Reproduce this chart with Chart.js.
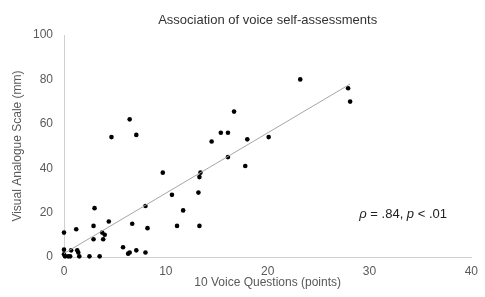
<!DOCTYPE html>
<html>
<head>
<meta charset="utf-8">
<script src="https://cdn.jsdelivr.net/npm/chart.js@4"></script>
<style>
  html, body { margin: 0; padding: 0; background: #fff; }
  #wrap { width: 485px; height: 297px; }
</style>
</head>
<body>
<div id="wrap"><canvas id="voiceChart" width="485" height="297"></canvas></div>
<script>
// 10 Voice Questions score (points) and Visual Analogue Scale (mm)
const vqScores = [0, 0, 0, 0.1, 0.4, 0.6, 0.7, 1.2, 1.3, 1.4, 1.5, 2.5, 3.5, 2.9, 2.9, 3.0, 3.75, 4.0, 3.85, 4.4,
    4.66, 5.8, 6.3, 6.45, 6.45, 6.7, 7.1, 7.1, 8.0, 8.2, 8.0, 9.7, 10.6, 11.1, 11.7, 13.2, 13.3, 13.3, 13.4,
    14.5, 15.4, 16.1, 16.1, 16.7, 17.8, 18.0, 20.1, 23.2, 27.9, 28.1];
const vasScores = [11, 3.3, 1.2, 0.3, 0.3, 0.3, 3, 12.5, 3, 2, 0.3, 0.3, 0.3, 8, 14, 22, 11, 10, 8, 16,
    54, 4.4, 1.5, 2, 62, 15, 3, 55, 23, 13, 2, 38, 28, 14, 21, 29, 14, 36, 38,
    52, 56, 56, 45, 65.5, 41, 53, 54, 80, 76, 70];
const xTicks = [0, 10, 20, 30, 40];
const yTicks = [0, 20, 40, 60, 80, 100];

const points = vqScores.map((x, i) => ({ x: x, y: vasScores[i] }));

// least squares trend line over the data range
const n = vqScores.length;
const mx = vqScores.reduce((a, b) => a + b, 0) / n;
const my = vasScores.reduce((a, b) => a + b, 0) / n;
let sxy = 0, sxx = 0;
for (let i = 0; i < n; i++) {
    sxy += (vqScores[i] - mx) * (vasScores[i] - my);
    sxx += (vqScores[i] - mx) * (vqScores[i] - mx);
}
const slope = sxy / sxx;
const intercept = my - slope * mx;
const xMin = Math.min(...vqScores), xMax = Math.max(...vqScores);
const trend = [xMin, xMax].map(x => ({ x: x, y: intercept + slope * x }));

const chartTitle = 'Association of voice self-assessments';
const statLabel = [
    { text: 'ρ', italic: true },
    { text: ' = .84, ', italic: false },
    { text: 'p', italic: true },
    { text: ' < .01', italic: false }
];

const FONT = '"Liberation Sans", Arial, sans-serif';

// title centred over the plot area (like the original), plus the stats note
const textPlugin = {
    id: 'textBits',
    afterDatasetsDraw(chart) {
        const ctx = chart.ctx;
        const area = chart.chartArea;
        ctx.save();
        ctx.fillStyle = '#333';
        ctx.textAlign = 'center';
        ctx.textBaseline = 'middle';
        ctx.font = '13px ' + FONT;
        ctx.fillText(chartTitle, (area.left + area.right) / 2, 20);

        let x = chart.scales.x.getPixelForValue(29);
        const y = chart.scales.y.getPixelForValue(19);
        ctx.fillStyle = '#222';
        ctx.textAlign = 'left';
        statLabel.forEach(p => {
            ctx.font = (p.italic ? 'italic ' : '') + '13px ' + FONT;
            ctx.fillText(p.text, x, y);
            x += ctx.measureText(p.text).width;
        });
        ctx.restore();
    }
};

Chart.defaults.font.family = FONT;
Chart.defaults.color = '#595959';

new Chart(document.getElementById('voiceChart'), {
    type: 'scatter',
    data: {
        datasets: [{
            type: 'line',
            data: trend,
            borderColor: '#a6a6a6',
            borderWidth: 1,
            pointRadius: 0,
            fill: false
        }, {
            data: points,
            backgroundColor: '#000',
            borderColor: '#000',
            borderWidth: 0,
            pointRadius: 2.3,
            clip: false
        }]
    },
    options: {
        responsive: false,
        animation: false,
        layout: { padding: { left: 0, right: 12, top: 35, bottom: 0 } },
        plugins: {
            legend: { display: false },
            tooltip: { enabled: false },
            title: { display: false }
        },
        scales: {
            x: {
                type: 'linear',
                min: 0,
                max: 40,
                afterBuildTicks: s => { s.ticks = xTicks.map(v => ({ value: v })); },
                afterFit: s => { s.height = 40; },
                grid: { display: false, drawTicks: false },
                border: { display: true, color: '#d0d0d0' },
                ticks: { font: { size: 12 }, padding: 7 },
                title: {
                    display: true,
                    text: '10 Voice Questions (points)',
                    font: { size: 12 },
                    padding: { top: 0, bottom: 7 }
                }
            },
            y: {
                type: 'linear',
                min: 0,
                max: 100,
                afterBuildTicks: s => { s.ticks = yTicks.map(v => ({ value: v })); },
                afterFit: s => { s.width = 64; },
                grid: { display: false, drawTicks: false },
                border: { display: true, color: '#d0d0d0' },
                ticks: { font: { size: 12 }, padding: 11 },
                title: {
                    display: true,
                    text: 'Visual Analogue Scale (mm)',
                    font: { size: 12 },
                    padding: { top: 10, bottom: 0 }
                }
            }
        }
    },
    plugins: [textPlugin]
});
</script>
</body>
</html>
